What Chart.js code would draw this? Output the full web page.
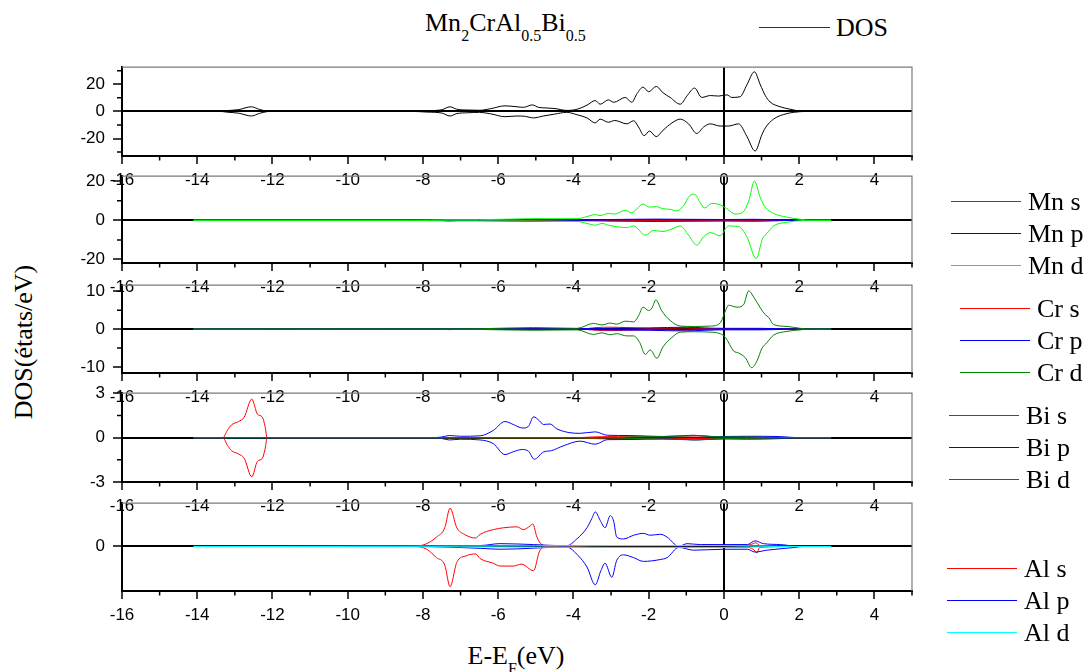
<!DOCTYPE html>
<html>
<head>
<meta charset="utf-8">
<script src="https://cdn.jsdelivr.net/npm/chart.js@4/dist/chart.umd.min.js"></script>
<style>
  body { margin: 0; width: 1090px; height: 672px; position: relative; background: #fff; overflow: hidden;
         font-family: "Liberation Serif", "Times New Roman", serif; color: #000; }
  canvas { position: absolute; left: 0; }
  .txt { position: absolute; font-size: 26px; line-height: 26px; white-space: nowrap; }
  .txt sub { font-size: 16px; vertical-align: -10px; line-height: 0; }
  .ln { position: absolute; height: 0; border-top: 1.5px solid #000; }
</style>
</head>
<body>
<div class="txt" style="left:425px;top:10px">Mn<sub>2</sub>CrAl<sub>0.5</sub>Bi<sub>0.5</sub></div>
<div class="ln" style="left:759px;top:27px;width:71px;border-color:#333"></div>
<div class="txt" style="left:836px;top:15px">DOS</div>
<div class="txt" style="left:24px;top:342px;transform:translate(-50%,-50%) rotate(-90deg)">DOS(états/eV)</div>
<div class="txt" style="left:516px;top:643px;transform:translateX(-50%)">E-E<sub>F</sub>(eV)</div>
<script>
// energy axis (eV)
const xMin = -16, xMax = 5;

// total DOS [E, value]
const totUp = [[-14.1,0],[-13.4,0],[-13.2,0.6],[-12.9,1.3],[-12.56,3.4],[-12.35,1.5],[-12.15,0.2],[-12.0,0],[-8.3,0],[-7.9,0.5],[-7.5,1.2],[-7.28,3.4],[-7.1,1.6],[-6.8,1.0],[-6.5,0.8],[-6.2,2.0],[-5.82,4.1],[-5.5,3.4],[-5.33,3.0],[-5.09,4.8],[-4.93,3.0],[-4.7,2.5],[-4.49,2.1],[-4.18,0.7],[-3.9,1.6],[-3.64,4.6],[-3.42,8.0],[-3.29,5.3],[-3.07,8.5],[-2.93,6.7],[-2.62,10.3],[-2.45,6.7],[-2.31,13.1],[-2.15,17.9],[-2.0,14.5],[-1.8,18.4],[-1.62,13.8],[-1.43,10.3],[-1.16,5.3],[-0.98,11.5],[-0.78,17.2],[-0.59,10.3],[-0.36,11.7],[-0.14,11.3],[0.08,12.2],[0.21,10.3],[0.43,10.8],[0.61,19.5],[0.81,29.2],[0.97,19.5],[1.1,11.7],[1.23,6.9],[1.5,3.4],[1.76,1.6],[2.03,0.2],[2.2,0],[2.85,0]];
const totDn = [[-14.1,0],[-13.4,0],[-13.2,-0.6],[-12.9,-1.3],[-12.56,-3.4],[-12.35,-1.5],[-12.15,-0.2],[-12.0,0],[-8.3,0],[-7.9,-0.5],[-7.5,-1.2],[-7.28,-3.4],[-7.1,-1.6],[-6.8,-1.0],[-6.5,-0.7],[-6.2,-1.8],[-5.82,-3.9],[-5.5,-3.4],[-5.3,-3.6],[-5.06,-4.8],[-4.8,-3.4],[-4.5,-2.0],[-4.18,-0.7],[-3.9,-2.5],[-3.64,-4.8],[-3.42,-8.5],[-3.29,-5.7],[-3.07,-8.0],[-2.9,-6.7],[-2.58,-9.2],[-2.4,-6.9],[-2.27,-11.5],[-2.12,-17.9],[-1.98,-14.5],[-1.8,-18.6],[-1.62,-14.0],[-1.38,-8.5],[-1.16,-5.7],[-0.94,-9.2],[-0.72,-16.3],[-0.54,-11.5],[-0.36,-9.2],[-0.1,-10.8],[0.12,-10.8],[0.39,-9.2],[0.61,-18.4],[0.83,-29.2],[1.01,-17.2],[1.1,-12.2],[1.32,-5.7],[1.68,-1.6],[2.03,-0.2],[2.2,0],[2.85,0]];

// Mn partial DOS
const mnSUp = [[-14.1,0],[-7.6,0],[-7.3,0.4],[-7.0,0],[-3.5,0],[-3.0,0.2],[-2.0,0.15],[-1.0,0.2],[0,0.1],[0.8,0.2],[2.0,0],[2.85,0]];
const mnSDn = [[-14.1,0],[-7.6,0],[-7.3,-0.4],[-7.0,0],[-3.5,0],[-3.0,-0.2],[-2.0,-0.15],[-1.0,-0.2],[0,-0.1],[0.8,-0.2],[2.0,0],[2.85,0]];
const mnPUp = [[-14.1,0],[-6.5,0.2],[-5.06,0.5],[-4.0,0.2],[-3.0,0.4],[-1.8,0.6],[-1.0,0.5],[0,0.4],[0.8,0.5],[1.5,0.2],[2.0,0],[2.85,0]];
const mnPDn = [[-14.1,0],[-6.5,-0.2],[-5.06,-0.5],[-4.0,-0.2],[-3.0,-0.4],[-1.8,-0.6],[-1.0,-0.5],[0,-0.4],[0.8,-0.5],[1.5,-0.2],[2.0,0],[2.85,0]];
const mnDUp = [[-14.1,0],[-8.3,0],[-7.3,0.3],[-6.5,0.3],[-5.06,0.8],[-3.9,0.8],[-3.64,1.9],[-3.42,2.9],[-3.29,2.4],[-3.07,3.5],[-2.9,3.2],[-2.62,5.1],[-2.45,3.8],[-2.31,5.9],[-2.15,8.3],[-1.98,6.7],[-1.8,7.0],[-1.62,5.9],[-1.43,5.6],[-1.25,4.8],[-1.07,7.5],[-0.9,12.7],[-0.78,13.3],[-0.63,9.0],[-0.52,6.3],[-0.32,8.6],[-0.1,7.9],[0.08,5.9],[0.3,3.2],[0.48,3.8],[0.66,9.8],[0.81,20.0],[0.97,11.4],[1.1,6.7],[1.32,3.5],[1.68,1.6],[2.03,0.5],[2.3,0],[2.85,0]];
const mnDDn = [[-14.1,0],[-8.3,0],[-7.3,-0.3],[-6.5,-0.3],[-3.9,-0.6],[-3.64,-1.6],[-3.42,-2.5],[-3.24,-1.6],[-3.07,-2.5],[-2.58,-3.7],[-2.4,-2.9],[-2.09,-7.6],[-1.87,-5.2],[-1.62,-5.7],[-1.38,-4.4],[-1.16,-2.9],[-0.94,-7.6],[-0.72,-12.7],[-0.54,-8.4],[-0.36,-6.3],[-0.1,-7.9],[0.12,-2.9],[0.39,-3.2],[0.61,-8.4],[0.86,-19.5],[1.03,-9.2],[1.14,-6.8],[1.32,-2.9],[1.68,-1.0],[2.03,-0.2],[2.3,0],[2.85,0]];

// Cr partial DOS
const crSUp = [[-14.1,0],[-7.6,0],[-7.3,0.15],[-7.0,0],[-3.8,0],[-3.4,0.4],[-3.0,0.5],[-2.6,0.4],[-2.0,0.2],[-1.0,0.3],[-0.6,0.2],[0,0.1],[2.0,0],[2.85,0]];
const crSDn = [[-14.1,0],[-7.6,0],[-7.3,-0.15],[-7.0,0],[-3.8,0],[-3.4,-0.3],[-3.0,-0.4],[-2.6,-0.3],[-2.0,-0.2],[-1.0,-0.3],[-0.6,-0.2],[0,-0.1],[2.0,0],[2.85,0]];
const crPUp = [[-14.1,0],[-6.5,0.1],[-4.0,0.1],[-3.0,0.2],[-2.0,0.3],[-1.0,0.5],[-0.5,0.3],[0,0.2],[1.0,0.2],[2.0,0],[2.85,0]];
const crPDn = [[-14.1,0],[-6.5,-0.1],[-4.0,-0.1],[-3.0,-0.2],[-2.0,-0.3],[-1.0,-0.5],[-0.5,-0.3],[0,-0.2],[1.0,-0.2],[2.0,0],[2.85,0]];
const crDUp = [[-14.1,0],[-8.0,0],[-6.48,0.1],[-5.06,0.4],[-3.9,0.2],[-3.47,1.5],[-3.24,1.1],[-3.02,1.6],[-2.85,1.3],[-2.62,2.1],[-2.4,1.9],[-2.27,3.5],[-2.15,5.8],[-2.0,4.9],[-1.91,5.6],[-1.81,7.7],[-1.65,4.8],[-1.43,2.3],[-1.16,0.8],[-0.81,0.7],[-0.36,0.8],[-0.1,1.6],[0.04,4.8],[0.12,6.3],[0.35,5.8],[0.52,6.4],[0.66,10.1],[0.79,8.5],[0.97,5.6],[1.1,3.8],[1.19,3.1],[1.32,1.2],[1.68,0.7],[2.03,0.2],[2.3,0],[2.85,0]];
const crDDn = [[-14.1,0],[-8.0,0],[-6.48,-0.1],[-5.06,-0.3],[-3.9,-0.2],[-3.47,-1.4],[-3.24,-1.0],[-3.02,-1.5],[-2.85,-1.2],[-2.58,-1.8],[-2.4,-1.8],[-2.24,-3.5],[-2.09,-6.7],[-1.96,-5.5],[-1.78,-7.7],[-1.62,-4.7],[-1.38,-2.2],[-1.16,-0.8],[-0.81,-0.7],[-0.36,-0.8],[-0.1,-1.2],[0.04,-2.2],[0.26,-5.8],[0.39,-6.3],[0.57,-7.6],[0.74,-10.2],[0.88,-8.4],[1.01,-5.1],[1.14,-3.6],[1.32,-1.6],[1.68,-0.6],[2.03,-0.2],[2.3,0],[2.85,0]];

// Bi partial DOS
const biSUp = [[-14.1,0],[-13.32,0],[-13.2,0.5],[-13.09,0.87],[-12.9,1.1],[-12.75,1.4],[-12.55,2.62],[-12.4,1.6],[-12.27,1.4],[-12.2,0.8],[-12.14,0],[-4.0,0],[-3.5,0.05],[-3.0,0.08],[-2.0,0.05],[-1.0,0.05],[0.8,0.05],[2.0,0],[2.85,0]];
const biSDn = [[-14.1,0],[-13.32,0],[-13.2,-0.5],[-13.09,-0.87],[-12.9,-1.1],[-12.75,-1.4],[-12.55,-2.65],[-12.4,-1.6],[-12.27,-1.4],[-12.2,-0.8],[-12.14,0],[-4.0,0],[-3.5,-0.05],[-3.0,-0.08],[-2.0,-0.05],[-1.0,-0.05],[0.8,-0.05],[2.0,0],[2.85,0]];
const biPUp = [[-14.1,0],[-7.8,0],[-7.5,0.05],[-7.3,0.15],[-7.0,0.1],[-6.48,0.13],[-6.13,0.5],[-5.82,1.1],[-5.6,0.9],[-5.35,0.66],[-5.2,0.76],[-5.06,1.42],[-4.9,1.14],[-4.8,0.9],[-4.62,0.93],[-4.44,0.6],[-4.09,0.34],[-3.82,0.3],[-3.42,0.4],[-3.1,0.17],[-2.5,0.15],[-1.6,0.08],[-0.8,0.17],[-0.3,0.08],[0.6,0.1],[1.5,0.08],[2.0,0],[2.85,0]];
const biPDn = [[-14.1,0],[-7.8,0],[-7.5,-0.05],[-7.3,-0.15],[-7.0,-0.1],[-6.48,-0.15],[-6.13,-0.4],[-5.82,-1.14],[-5.6,-0.95],[-5.37,-0.8],[-5.2,-0.9],[-5.04,-1.46],[-4.8,-0.97],[-4.58,-0.87],[-4.27,-0.55],[-3.82,-0.23],[-3.42,-0.44],[-3.1,-0.13],[-2.5,-0.12],[-1.6,-0.08],[-0.8,-0.15],[0,-0.08],[0.6,-0.1],[1.5,-0.06],[2.0,0],[2.85,0]];
const biDUp = [[-14.1,0],[-3.0,0],[-2.5,0.05],[-1.0,0.12],[-0.7,0.15],[-0.3,0.08],[0.5,0.05],[2.0,0],[2.85,0]];
const biDDn = [[-14.1,0],[-3.0,0],[-2.5,-0.05],[-1.0,-0.12],[-0.7,-0.15],[-0.3,-0.08],[0.5,-0.05],[2.0,0],[2.85,0]];

// Al partial DOS
const alSUp = [[-14.1,0],[-8.26,0],[-7.9,0.03],[-7.64,0.1],[-7.42,0.2],[-7.28,0.41],[-7.1,0.2],[-6.9,0.13],[-6.6,0.09],[-6.48,0.13],[-6.13,0.18],[-5.85,0.2],[-5.5,0.21],[-5.33,0.18],[-5.15,0.22],[-5.08,0.24],[-4.97,0.1],[-4.84,0.02],[-4.6,0],[-3.5,0.01],[-2.0,0.01],[-1.0,0.01],[0.6,0.01],[0.78,0.03],[0.85,0.04],[0.95,0.01],[2.0,0],[2.85,0]];
const alSDn = [[-14.1,0],[-8.26,0],[-7.9,-0.03],[-7.64,-0.12],[-7.42,-0.2],[-7.28,-0.43],[-7.1,-0.17],[-6.85,-0.1],[-6.6,-0.08],[-6.48,-0.13],[-6.13,-0.18],[-5.95,-0.21],[-5.6,-0.21],[-5.38,-0.19],[-5.06,-0.26],[-4.9,-0.05],[-4.7,0],[-3.5,-0.01],[0.6,-0.01],[0.78,-0.03],[0.88,-0.07],[0.95,-0.01],[2.0,0],[2.85,0]];
const alPUp = [[-14.1,0],[-8.3,0],[-7.3,0.01],[-6.48,0.01],[-5.95,0.03],[-5.06,0.02],[-4.18,0.007],[-3.91,0.08],[-3.64,0.2],[-3.51,0.3],[-3.42,0.37],[-3.29,0.28],[-3.16,0.2],[-3.02,0.33],[-2.93,0.27],[-2.85,0.1],[-2.67,0.08],[-2.4,0.12],[-2.14,0.14],[-1.96,0.12],[-1.69,0.13],[-1.51,0.1],[-1.2,0],[-0.98,0.03],[-0.63,0.02],[0.62,0.02],[0.83,0.06],[1.05,0.03],[1.5,0.02],[2.0,0],[2.85,0]];
const alPDn = [[-14.1,0],[-8.3,0],[-6.48,-0.02],[-5.95,-0.03],[-4.18,-0.007],[-3.87,-0.1],[-3.64,-0.22],[-3.42,-0.41],[-3.27,-0.26],[-3.16,-0.18],[-2.98,-0.33],[-2.85,-0.15],[-2.67,-0.09],[-2.4,-0.12],[-2.14,-0.16],[-1.69,-0.14],[-1.51,-0.12],[-1.2,-0.01],[-0.8,-0.04],[0,-0.03],[0.62,-0.03],[0.83,-0.06],[1.14,-0.04],[1.9,-0.01],[2.1,0],[2.85,0]];
const alDUp = [[-14.1,0],[-7.0,0.005],[-3.0,0.01],[0,0.01],[2.0,0],[2.85,0]];
const alDDn = [[-14.1,0],[-7.0,-0.005],[-3.0,-0.01],[0,-0.01],[2.0,0],[2.85,0]];

// panel layout (px) + y ranges
const PAD_T = 12, XH = 45, W = 1090, YW = 122, RIGHT = 912;
const panels = [
  { top: 61, h: 95, yMin: -32.9, yMax: 32.6, yStep: 20, yMinor: 10,
    series: [{ name: null, up: totUp, dn: totDn, color: '#000000' }] },
  { top: 170, h: 93, yMin: -21.8, yMax: 22.5, yStep: 20, yMinor: 10,
    legend: { lineX: 951, textX: 1028, ys: [201, 233, 265] },
    series: [{ name: 'Mn s', up: mnSUp, dn: mnSDn, color: '#ff0000' },
             { name: 'Mn p', up: mnPUp, dn: mnPDn, color: '#0000ff' },
             { name: 'Mn d', up: mnDUp, dn: mnDDn, color: '#00ff00' }] },
  { top: 279, h: 94, yMin: -11.6, yMax: 11.6, yStep: 10, yMinor: 5,
    legend: { lineX: 960, textX: 1037, ys: [308, 340, 372] },
    series: [{ name: 'Cr s', up: crSUp, dn: crSDn, color: '#ff0000' },
             { name: 'Cr p', up: crPUp, dn: crPDn, color: '#0000ff' },
             { name: 'Cr d', up: crDUp, dn: crDDn, color: '#008000' }] },
  { top: 387, h: 95, yMin: -3.0, yMax: 3.02, yStep: 3, yMinor: 1.5,
    legend: { lineX: 949, textX: 1026, ys: [415, 447, 479] },
    series: [{ name: 'Bi s', up: biSUp, dn: biSDn, color: '#ff0000' },
             { name: 'Bi p', up: biPUp, dn: biPDn, color: '#0000ff' },
             { name: 'Bi d', up: biDUp, dn: biDDn, color: '#008000' }] },
  { top: 497, h: 94, yMin: -0.477, yMax: 0.463, yStep: 0.5, yMinor: null,
    legend: { lineX: 947, textX: 1024, ys: [568, 600, 632] },
    series: [{ name: 'Al s', up: alSUp, dn: alSDn, color: '#ff0000' },
             { name: 'Al p', up: alPUp, dn: alPDn, color: '#0000ff' },
             { name: 'Al d', up: alDUp, dn: alDDn, color: '#00ffff' }] }
];

const isMult = (v, s) => Math.abs(v / s - Math.round(v / s)) < 1e-6;

// minor ticks + thin top/right frame
const framePlugin = {
  id: 'frame',
  afterDraw(chart, args, opts) {
    const { ctx, chartArea: a, scales: { x, y } } = chart;
    ctx.save();
    ctx.strokeStyle = '#7a7a7a';
    ctx.lineWidth = 1.2;
    ctx.beginPath();
    ctx.moveTo(a.left, a.top); ctx.lineTo(a.right, a.top); ctx.lineTo(a.right, a.bottom);
    ctx.stroke();
    ctx.strokeStyle = '#000';
    ctx.lineWidth = 1.5;
    ctx.beginPath();
    for (let v = x.min; v <= x.max + 1e-9; v += 1) {
      if (isMult(v, 2)) continue;
      const px = x.getPixelForValue(v);
      ctx.moveTo(px, a.bottom); ctx.lineTo(px, a.bottom + 4.5);
    }
    if (opts.yMinor) {
      const s = opts.yMinor;
      for (let v = Math.ceil(y.min / s) * s; v <= y.max + 1e-9; v += s) {
        if (isMult(v, opts.yStep)) continue;
        const py = y.getPixelForValue(v);
        ctx.moveTo(a.left, py); ctx.lineTo(a.left - 5, py);
      }
    }
    ctx.stroke();
    ctx.restore();
  }
};

const tickFont = { family: '"Liberation Sans", Arial, sans-serif', size: 17 };
const zeroColor = c => (c.tick && c.tick.value === 0) ? '#000' : 'rgba(0,0,0,0)';

panels.forEach(p => {
  const cv = document.createElement('canvas');
  cv.width = W;
  cv.height = PAD_T + p.h + XH;
  cv.style.top = (p.top - PAD_T) + 'px';
  document.body.appendChild(cv);

  const datasets = [];
  p.series.forEach((s, i) => {
    const order = p.series.length - 1 - i;
    [s.up, s.dn].forEach(arr => datasets.push({
      data: arr.map(([x, y]) => ({ x, y })),
      borderColor: s.color,
      borderWidth: 1,
      pointRadius: 0,
      cubicInterpolationMode: 'monotone',
      order
    }));
  });

  new Chart(cv, {
    type: 'line',
    data: { datasets },
    options: {
      responsive: false,
      animation: false,
      layout: { padding: { top: PAD_T, right: W - RIGHT, left: 0, bottom: 0 } },
      plugins: { legend: { display: false }, tooltip: { enabled: false },
                 frame: { yMinor: p.yMinor, yStep: p.yStep } },
      scales: {
        x: {
          type: 'linear', min: xMin, max: xMax,
          afterFit: s => { s.height = XH; },
          ticks: { stepSize: 2, includeBounds: false, autoSkip: false, maxRotation: 0,
                   padding: 6, color: '#000', font: tickFont },
          grid: { color: zeroColor, lineWidth: 2, tickLength: 8, tickColor: '#000', tickWidth: 1.5 },
          border: { color: '#000', width: 2 }
        },
        y: {
          min: p.yMin, max: p.yMax,
          afterFit: s => { s.width = YW; },
          ticks: { stepSize: p.yStep, includeBounds: false, padding: 8, color: '#000', font: tickFont },
          grid: { color: zeroColor, lineWidth: 2, tickLength: 9, tickColor: '#000', tickWidth: 1.5 },
          border: { color: '#000', width: 2 }
        }
      }
    },
    plugins: [framePlugin]
  });

  if (p.legend) {
    p.series.forEach((s, i) => {
      const y = p.legend.ys[i];
      const ln = document.createElement('div');
      ln.className = 'ln';
      ln.style.cssText = `left:${p.legend.lineX}px;top:${y}px;width:70px;border-color:${s.color}`;
      document.body.appendChild(ln);
      const t = document.createElement('div');
      t.className = 'txt';
      t.style.cssText = `left:${p.legend.textX}px;top:${y - 12}px`;
      t.textContent = s.name;
      document.body.appendChild(t);
    });
  }
});
</script>
</body>
</html>
